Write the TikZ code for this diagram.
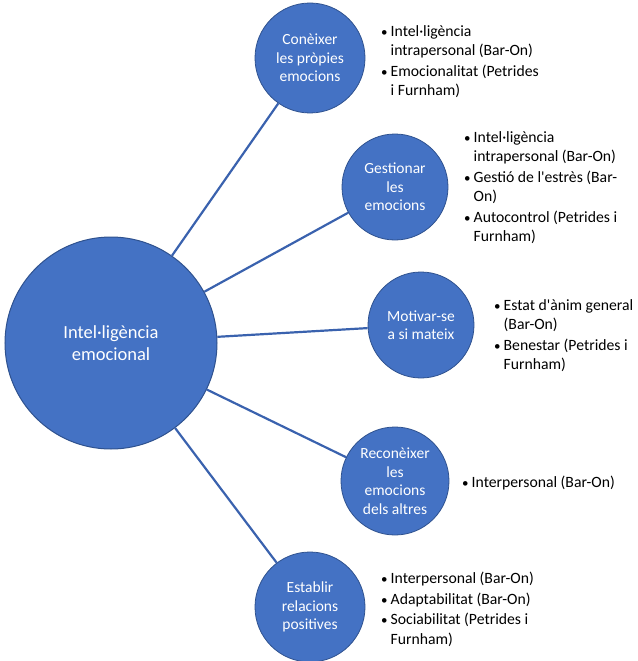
\documentclass[tikz,border=0pt]{standalone}
\usepackage{fontspec}
\setmainfont{Carlito}
\usepackage{tikz}
\usetikzlibrary{positioning}
\definecolor{blobfill}{HTML}{4472C4}
\definecolor{blobedge}{HTML}{2F528F}
\definecolor{linkblue}{HTML}{3A62AE}
\definecolor{darktext}{HTML}{000000}
\tikzset{
  rootnode/.style={circle,draw=blobedge,line width=1pt,fill=blobfill,minimum size=212pt,inner sep=0pt,align=center,text=white,font=\fontsize{18.5}{22}\selectfont},
  topicnode/.style={circle,draw=blobedge,line width=0.8pt,fill=blobfill,minimum size=#1,inner sep=0pt,align=center,text=white,font=\fontsize{15.5}{18.5}\selectfont},
  topicnode/.default=108pt,
  listnode/.style={anchor=north west,inner sep=0pt,align=left,text=darktext,font=\fontsize{15.7}{19.5}\selectfont},
  link/.style={linkblue,line width=2.2pt}
}
\newcommand{\bul}{\makebox[10.5pt][l]{\hspace*{1pt}{\fontsize{13}{13}\selectfont\textbullet}}}
\newcommand{\hang}{\hspace*{10.5pt}}

\begin{document}
\begin{tikzpicture}[x=1pt,y=-1pt]
  \useasboundingbox (0,0) rectangle (637,661);

  % central concept
  \node[rootnode] (root) at (111,343) {Intel·ligència\\emocional};

  % the five components
  \node[topicnode=110pt] (know) at (310,58) {Conèixer\\les pròpies\\emocions};
  \node[topicnode=106pt] (manage) at (395,187) {Gestionar\\les\\emocions};
  \node[topicnode=106pt] (motiv) at (421,325) {Motivar-se\\a si mateix};
  \node[topicnode=108pt] (recog) at (395,481) {Reconèixer\\les\\emocions\\dels altres};
  \node[topicnode=110pt] (relate) at (310,607) {Establir\\relacions\\positives};

  \foreach \t in {know,manage,motiv,recog,relate}
    \draw[link] (root) -- (\t);

  % bullet lists
  \node[listnode] (knowlist) at (380,25) {\bul Intel·ligència\\\hang intrapersonal (Bar-On)\\[1pt]
    \bul Emocionalitat (Petrides\\\hang i Furnham)};
  \node[listnode] (managelist) at (463,131) {\bul Intel·ligència\\\hang intrapersonal (Bar-On)\\[1pt]
    \bul Gestió de l\textquotesingle estrès (Bar-\\\hang On)\\[1pt]
    \bul Autocontrol (Petrides i\\\hang Furnham)};
  \node[listnode] (motivlist) at (493,299) {\bul Estat d\textquotesingle ànim general\\\hang (Bar-On)\\[1pt]
    \bul Benestar (Petrides i\\\hang Furnham)};
  \node[listnode] (recoglist) at (461,476) {\bul Interpersonal (Bar-On)};
  \node[listnode] (relatelist) at (380,572) {\bul Interpersonal (Bar-On)\\[1pt]
    \bul Adaptabilitat (Bar-On)\\[1pt]
    \bul Sociabilitat (Petrides i\\\hang Furnham)};
\end{tikzpicture}
\end{document}
